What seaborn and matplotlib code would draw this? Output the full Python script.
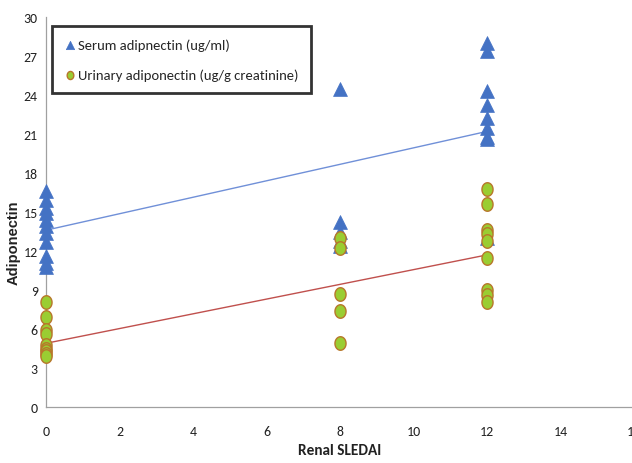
import matplotlib
matplotlib.use("Agg")
import matplotlib.pyplot as plt
import seaborn as sns
import pandas as pd
import numpy as np
from matplotlib import font_manager
from matplotlib.path import Path

serum_x = [0]*11 + [8]*5 + [12]*9
serum_y = [16.6, 15.9, 15.3, 14.9, 14.4, 13.9, 13.4, 12.7, 11.6, 11.1, 10.8,
           24.5, 14.2, 13.5, 12.8, 12.4,
           28.0, 27.4, 24.3, 23.2, 22.2, 21.5, 20.8, 20.6, 13.0]
urine_x = [0]*9 + [8]*5 + [12]*9
urine_y = [8.1, 6.9, 5.9, 5.6, 4.8, 4.5, 4.3, 4.1, 3.9,
           13.0, 12.2, 8.7, 7.4, 4.9,
           16.8, 15.6, 13.6, 13.3, 12.8, 11.5, 9.0, 8.6, 8.1]
trend_x = [0, 12]
serum_trend = [13.6, 21.2]
urine_trend = [4.9, 11.7]
x_ticks = [0, 2, 4, 6, 8, 10, 12, 14, 16]
y_ticks = [0, 3, 6, 9, 12, 15, 18, 21, 24, 27, 30]

names = {f.name for f in font_manager.fontManager.ttflist}
narrow = "DejaVu Sans"
for cand in ["Carlito", "Roboto Condensed", "Open Sans Condensed", "Sofia Sans Semi Condensed",
             "Asap Condensed", "Liberation Sans Narrow"]:
    if cand in names:
        narrow = cand
        break
arial = "Liberation Sans" if "Liberation Sans" in names else "DejaVu Sans"

sns.set_theme(style="white")
plt.rcParams['font.family'] = [narrow, 'DejaVu Sans']

df_s = pd.DataFrame({"x": serum_x, "y": serum_y})
df_u = pd.DataFrame({"x": urine_x, "y": urine_y})
df_ts = pd.DataFrame({"x": trend_x, "y": serum_trend})
df_tu = pd.DataFrame({"x": trend_x, "y": urine_trend})

t = np.linspace(0, 2*np.pi, 41)
ellipse = Path(np.column_stack([np.cos(t)*0.82, np.sin(t)]), closed=True)

fig = plt.figure(figsize=(6.32, 4.64), dpi=100)
ax = fig.add_axes([46/632, 56/464, 588/632, 390/464])

sns.lineplot(data=df_ts, x="x", y="y", ax=ax, color="#7090D8", lw=1.0, zorder=2)
sns.lineplot(data=df_tu, x="x", y="y", ax=ax, color="#C0504D", lw=1.0, zorder=2)
sns.scatterplot(data=df_s, x="x", y="y", ax=ax, marker="^", s=100, color="#4472C4",
                edgecolor="#4472C4", linewidth=0.5, label="Serum adipnectin (ug/ml)", zorder=3, clip_on=False)
sns.scatterplot(data=df_u, x="x", y="y", ax=ax, marker=ellipse, s=95, color="#9ACD32",
                edgecolor="#B8762A", linewidth=1.0, label="Urinary adiponectin (ug/g creatinine)", zorder=4, clip_on=False)

ax.set_xlim(0, 16)
ax.set_ylim(0, 30)
ax.set_xticks(x_ticks)
ax.set_yticks(y_ticks)
ax.tick_params(axis="both", which="both", direction="out", length=4, width=0.8,
               color="#A0A0A0", labelsize=10, labelcolor="#222222")
ax.tick_params(axis="x", pad=9)
ax.tick_params(axis="y", pad=2)
for side in ["top", "right"]:
    ax.spines[side].set_visible(False)
for side in ["left", "bottom"]:
    ax.spines[side].set_color("#A0A0A0")
    ax.spines[side].set_linewidth(0.9)
ax.set_xlabel("Renal SLEDAI", fontsize=11, fontweight="bold", color="#222222")
ax.xaxis.set_label_coords(0.5, -(444-408)/390)
ax.set_ylabel("Adiponectin", fontsize=10.5, fontweight="bold", family=arial, color="#222222")
ax.yaxis.set_label_coords(-(46-21)/588, (408-243)/390)

leg = ax.legend(loc="upper left", bbox_to_anchor=(6/588, 1 - 9/390), frameon=True,
                fancybox=False, edgecolor="black", fontsize=10.5, handletextpad=0.15,
                handlelength=0.8, borderpad=0.85, labelspacing=1.2, markerscale=0.6,
                borderaxespad=0)
leg.get_frame().set_linewidth(2.0)

fig.savefig("out.png", dpi=100)
